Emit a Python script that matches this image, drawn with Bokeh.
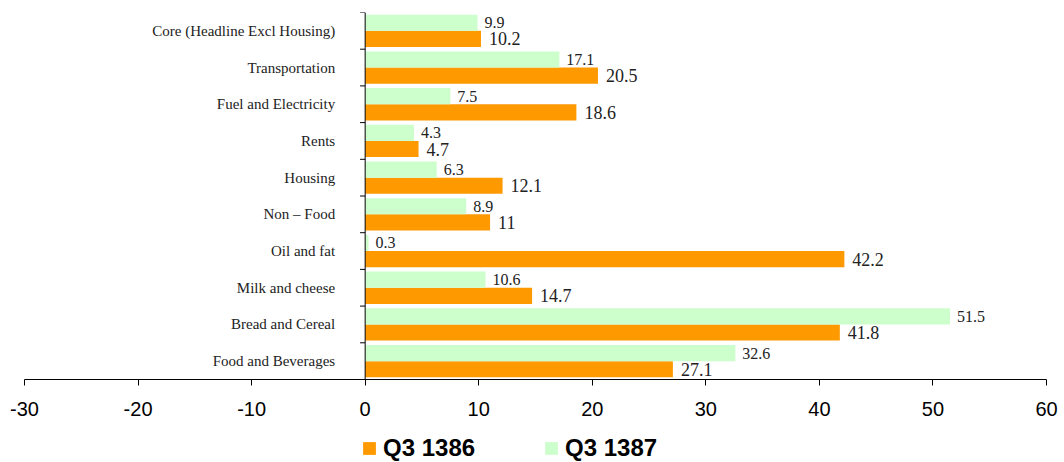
from bokeh.plotting import figure
from bokeh.layouts import column
from bokeh.models import ColumnDataSource, Legend, LegendItem, FixedTicker, Range1d, Span
from bokeh.core.properties import value
from bokeh.embed import file_html
from bokeh.resources import INLINE

categories = ["Core (Headline Excl Housing)", "Transportation", "Fuel and Electricity", "Rents",
              "Housing", "Non \u2013 Food", "Oil and fat", "Milk and cheese", "Bread and Cereal",
              "Food and Beverages"]
q3_1386 = [10.2, 20.5, 18.6, 4.7, 12.1, 11, 42.2, 14.7, 41.8, 27.1]
q3_1387 = [9.9, 17.1, 7.5, 4.3, 6.3, 8.9, 0.3, 10.6, 51.5, 32.6]
x_ticks = [-30, -20, -10, 0, 10, 20, 30, 40, 50, 60]
x_tick_labels = ["-30", "-20", "-10", "0", "10", "20", "30", "40", "50", "60"]
series_names = ["Q3 1386", "Q3 1387"]
series_colors = ["#FF9900", "#CCFFCC"]

n = len(categories)
ypos = [n - 1 - i + 0.5 for i in range(n)]

src = ColumnDataSource(dict(
    cat=categories, y=ypos,
    y86=[y - 0.22 for y in ypos], y87=[y + 0.22 for y in ypos],
    v86=q3_1386, v87=q3_1387,
    t86=[str(v) for v in q3_1386], t87=[str(v) for v in q3_1387],
    zero=[0] * n,
))

p = figure(frame_width=1022, frame_height=367, output_backend="svg", toolbar_location=None,
           x_range=Range1d(-30, 60), y_range=Range1d(0, n),
           y_axis_location=None, min_border_left=24, min_border_right=18,
           min_border_top=12, min_border_bottom=44)
p.outline_line_color = None
p.xgrid.visible = False
p.ygrid.visible = False

p.hbar(y="y86", left=0, right="v86", height=0.44, source=src,
       fill_color=series_colors[0], line_color=None)
p.hbar(y="y87", left=0, right="v87", height=0.44, source=src,
       fill_color=series_colors[1], line_color=None)

serif = value("Liberation Serif")
p.text(x="v87", y="y87", text="t87", source=src, x_offset=7, text_align="left",
       text_baseline="middle", text_font=serif, text_font_size="16px", text_color="#222222")
p.text(x="v86", y="y86", text="t86", source=src, x_offset=8, text_align="left",
       text_baseline="middle", text_font=serif, text_font_size="18px", text_color="#222222")
p.text(x="zero", y="y", text="cat", source=src, x_offset=-30, text_align="right",
       text_baseline="middle", text_font=serif, text_font_size="15px", text_color="#222222")

# vertical category axis at zero with tick marks on its left
p.add_layout(Span(location=0, dimension="height", line_color="black", line_width=1))
bounds = list(range(n + 1))
p.segment(x0=[0] * len(bounds), y0=bounds, x1=[-0.45] * len(bounds), y1=bounds,
          line_color="black", line_width=1)

ax = p.xaxis[0]
ax.ticker = FixedTicker(ticks=x_ticks)
ax.major_label_overrides = {t: s for t, s in zip(x_ticks, x_tick_labels)}
ax.minor_tick_line_color = None
ax.major_tick_in = 0
ax.major_tick_out = 6
ax.major_label_standoff = 16
ax.axis_line_color = "black"
ax.major_tick_line_color = "black"
ax.major_label_text_font = "Liberation Sans"
ax.major_label_text_font_size = "20px"
ax.major_label_text_color = "black"

# legend strip below the chart
lg = figure(width=1064, height=39, output_backend="svg", toolbar_location=None,
            x_range=Range1d(0, 1), y_range=Range1d(0, 1),
            x_axis_location=None, y_axis_location=None,
            min_border=0)
lg.outline_line_color = None
lg.xgrid.visible = False
lg.ygrid.visible = False
rs = [lg.hbar(y=[-5], left=[0], right=[1], height=0.5, fill_color=c, line_color=None)
      for c in series_colors]
legend = Legend(items=[LegendItem(label=s, renderers=[r]) for s, r in zip(series_names, rs)],
                orientation="horizontal", location=(337, 0),
                label_text_font="Liberation Sans",
                label_text_font_style="bold", label_text_font_size="24px",
                label_text_color="black",
                glyph_width=16, glyph_height=16, label_height=16, spacing=68,
                padding=0, margin=0, label_standoff=6,
                border_line_color=None, background_fill_alpha=0)
lg.add_layout(legend, "center")

layout = column(p, lg, spacing=0)
open("out.html", "w").write(file_html(layout, INLINE))
